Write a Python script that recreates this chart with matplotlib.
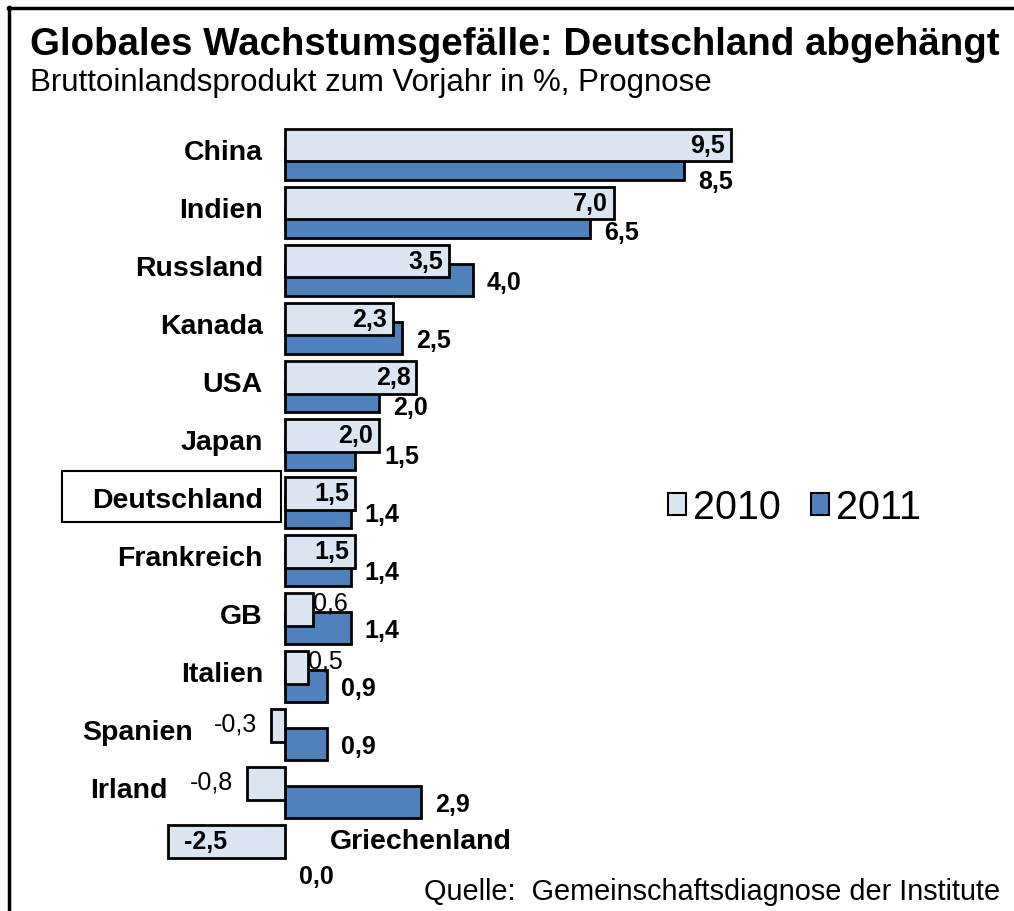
import matplotlib
matplotlib.use('Agg')
import matplotlib.pyplot as plt
from matplotlib.patches import Rectangle, Patch
from matplotlib.lines import Line2D

plt.rcParams['font.family'] = ['Liberation Sans', 'DejaVu Sans']

# data
countries = ['China', 'Indien', 'Russland', 'Kanada', 'USA', 'Japan', 'Deutschland',
             'Frankreich', 'GB', 'Italien', 'Spanien', 'Irland', 'Griechenland']
gdp_2010 = [9.5, 7.0, 3.5, 2.3, 2.8, 2.0, 1.5, 1.5, 0.6, 0.5, -0.3, -0.8, -2.5]
gdp_2011 = [8.5, 6.5, 4.0, 2.5, 2.0, 1.5, 1.4, 1.4, 1.4, 0.9, 0.9, 2.9, 0.0]
years = ['2010', '2011']

light = '#dce6f2'
dark = '#4f81bd'

def fmt(v):
    return ('%.1f' % v).replace('.', ',')

fig = plt.figure(figsize=(10.14, 9.12), dpi=100)
ax = fig.add_axes([0, 0, 1, 1])
ax.set_xlim(-6.07, 15.53)
ax.set_ylim(13.04, -2.68)
ax.axis('off')

rows = list(range(len(countries)))
lw11 = [2 if v != 0 else 0 for v in gdp_2011]
ax.barh([i + 0.16 for i in rows], gdp_2011, height=0.56, color=dark,
        edgecolor='black', linewidth=lw11, zorder=2)
ax.barh([i - 0.16 for i in rows], gdp_2010, height=0.56, color=light,
        edgecolor='black', linewidth=2, zorder=3)

# 2010 labels
for i, v in enumerate(gdp_2010):
    if v >= 1:
        ax.text(v - 0.12, i - 0.16, fmt(v), ha='right', va='center',
                fontsize=18, weight='bold', zorder=5)
    elif v > 0:
        ax.text(v, i - 0.28, fmt(v), ha='left', va='center', fontsize=18, zorder=5)
    elif v > -1:
        ax.text(v - 0.3, i - 0.2, fmt(v), ha='right', va='center', fontsize=18, zorder=5)
    else:
        ax.text(v + 0.35, i - 0.16, fmt(v), ha='left', va='center',
                fontsize=18, weight='bold', zorder=5)

# 2011 labels (a few nudged like the original)
dy11 = {'China': 0.46, 'Indien': 0.34, 'USA': 0.35, 'Griechenland': 0.44}
dx11 = {'Japan': 0.62}
for i, v in enumerate(gdp_2011):
    c = countries[i]
    ax.text(v + dx11.get(c, 0.3), i + dy11.get(c, 0.2), fmt(v), ha='left',
            va='center', fontsize=18, weight='bold', zorder=5)

# country names
name_x = {'Spanien': -1.96, 'Irland': -2.51}
for i, c in enumerate(countries):
    if c == 'Griechenland':
        ax.text(0.96, i - 0.16, c, ha='left', va='center', fontsize=20.5, weight='bold')
    else:
        ax.text(name_x.get(c, -0.47), i - 0.05, c, ha='right', va='center',
                fontsize=20.5, weight='bold')

# box around Deutschland
k = countries.index('Deutschland')
ax.add_patch(Rectangle((-4.75, k - 0.54), 4.665, 0.88, fill=False,
                       edgecolor='black', linewidth=1.5, zorder=4))

handles = [Patch(facecolor=light, edgecolor='black', linewidth=1.5),
           Patch(facecolor=dark, edgecolor='black', linewidth=1.5)]
ax.legend(handles, years, loc='center left', bbox_to_anchor=(668 / 1014, 1 - 508 / 912),
          frameon=False, ncol=2, fontsize=28.5, borderpad=0, borderaxespad=0,
          handlelength=0.45, handleheight=0.45, handletextpad=0.18, columnspacing=0.76)

fig.text(30 / 1014, 1 - 55 / 912, 'Globales Wachstumsgefälle: Deutschland abgehängt',
         fontsize=27.7, weight='bold', va='baseline')
fig.text(30 / 1014, 1 - 91 / 912, 'Bruttoinlandsprodukt zum Vorjahr in %, Prognose',
         fontsize=22.5, va='baseline')
fig.text(1000 / 1014, 1 - 900 / 912, 'Quelle:  Gemeinschaftsdiagnose der Institute',
         fontsize=20.8, ha='right', va='baseline')

# frame, open to the right and bottom
fig.add_artist(Line2D([8 / 1014, 1], [1 - 8.5 / 912] * 2, color='black', lw=2.5))
fig.add_artist(Line2D([8.5 / 1014] * 2, [0, 1 - 8 / 912], color='black', lw=2.5))

fig.savefig('out.png', dpi=100)
